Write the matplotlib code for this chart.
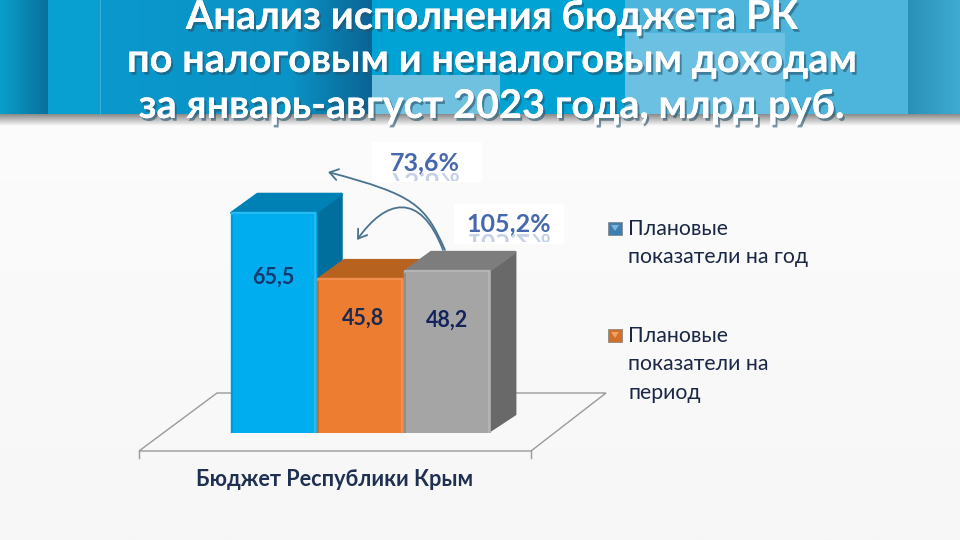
import numpy as np
import matplotlib
matplotlib.use("Agg")
import matplotlib.pyplot as plt
import matplotlib.patheffects as pe
from matplotlib.colors import LinearSegmentedColormap
from matplotlib.patches import Rectangle, Polygon, FancyArrowPatch, PathPatch
from matplotlib.path import Path
from matplotlib.textpath import TextPath
from matplotlib.font_manager import FontProperties
from matplotlib.transforms import Affine2D

plt.rcParams['font.family'] = ['Lato', 'Noto Sans', 'DejaVu Sans']

# данные
categories = ["Плановые показатели на год", "Плановые показатели на период", "Исполнение"]
values = [65.5, 45.8, 48.2]
value_labels = ["65,5", "45,8", "48,2"]
front_colors = ["#00aeef", "#ed7d31", "#a5a5a5"]
top_colors = ["#0081b5", "#b8621f", "#7d7d7d"]
side_colors = ["#006f9e", "#a85a1e", "#696969"]
light_colors = ["#2fc0f5", "#f39458", "#b8b8b8"]
dark_colors = ["#0096cf", "#c9672a", "#8a8a8a"]
label_colors = ["#123a70", "#1a2a50", "#13235c"]
label_x = [-0.005, 1.03, 2.0]
label_y = [46.4, 34.2, 33.6]
group_label = "Бюджет Республики Крым"
title_lines = ["Анализ исполнения бюджета РК",
               "по налоговым и неналоговым доходам",
               "за январь-август 2023 года, млрд руб."]
legend_texts = ["Плановые\nпоказатели на год", "Плановые\nпоказатели на\nпериод"]
legend_colors = ["#3d7fb0", "#d0702a"]
legend_light = ["#7fb4d8", "#f0a060"]
pct_labels = ["73,6%", "105,2%"]

fig = plt.figure(figsize=(9.6, 5.4), dpi=100)

# фон и шапка, координаты в пикселях
bg = fig.add_axes([0, 0, 1, 1], zorder=0)
bg.axis("off")
page = LinearSegmentedColormap.from_list("page", ["#f7f7f8", "#fdfdfe"])
bg.imshow(np.linspace(1, 0, 200).reshape(-1, 1), extent=(0, 960, 540, 0), aspect="auto", cmap=page, zorder=0)


def hgrad(x0, x1, y0, y1, c0, c1, z=1):
    cm = LinearSegmentedColormap.from_list("g", [c0, c1])
    bg.imshow(np.linspace(0, 1, 128).reshape(1, -1), extent=(x0, x1, y1, y0), aspect="auto", cmap=cm, zorder=z)


hgrad(0, 48, 0, 114, "#0a9fcb", "#0b6f9c")
hgrad(48, 100, 0, 114, "#08a0d0", "#08a0d0")
hgrad(100, 290, 0, 114, "#0a98cc", "#0a93c6")
hgrad(290, 372, 0, 114, "#0a93c6", "#0a6494")
hgrad(372, 625, 0, 114, "#00a3d3", "#00a3d3")
hgrad(372, 500, 75, 114, "#70c0e0", "#70c0e0", 2)
hgrad(625, 908, 0, 114, "#4db5dc", "#4db5dc", 2)
hgrad(625, 785, 33, 114, "#6cc0e2", "#6cc0e2", 3)
hgrad(908, 960, 0, 114, "#2a8fb6", "#3fabd2", 2)
bg.plot([100, 100], [0, 114], color="#3fb2da", lw=0.7, zorder=3)
shadow = LinearSegmentedColormap.from_list("s", ["#8a8a8a", "#fbfbfc"])
bg.imshow(np.linspace(0, 1, 32).reshape(-1, 1), extent=(0, 960, 126, 114), aspect="auto", cmap=shadow, zorder=2)
bg.set_xlim(0, 960)
bg.set_ylim(540, 0)

# плоскость основания
floor = Polygon([(139, 451), (531, 451), (606, 393), (217, 393)], closed=True, fill=False,
                edgecolor="#9a9a9a", linewidth=1, zorder=3)
bg.add_patch(floor)
bg.plot([139, 139], [451, 458], color="#9a9a9a", lw=1, zorder=3)
bg.plot([531, 531], [451, 458], color="#9a9a9a", lw=1, zorder=3)

# столбцы
ax = fig.add_axes([230 / 960, (540 - 433) / 540, 260.5 / 960, 235.2 / 540], zorder=1)
ax.patch.set_alpha(0)
ax.set_xlim(-0.5, 2.5)
ax.set_ylim(0, 70)
ax.axis("off")
dx = 0.30
dy = 5.6
w = 0.965
for i, v in enumerate(values):
    l = i - w / 2
    r = i + w / 2
    z = 2 + i * 4
    ax.add_patch(Polygon([(r, 0.5), (r + dx, dy), (r + dx, v + dy), (r, v)], closed=True, facecolor=side_colors[i],
                         edgecolor=side_colors[i], lw=2, joinstyle="round", zorder=z, clip_on=False))
    ax.add_patch(Polygon([(l, v), (l + dx, v + dy), (r + dx, v + dy), (r, v)], closed=True, facecolor=top_colors[i],
                         edgecolor=top_colors[i], lw=2, joinstyle="round", zorder=z, clip_on=False))
    ax.bar(i, v, width=w, color=front_colors[i], edgecolor=front_colors[i], linewidth=2.5, joinstyle="round",
           zorder=z + 1, label=categories[i])
    # блик сверху и справа, тень слева
    ax.plot([l, r, r], [v, v, 0], color=light_colors[i], lw=1.1, solid_joinstyle="round", zorder=z + 2)
    ax.plot([l, l], [v - 1, 0], color=dark_colors[i], lw=1.2, zorder=z + 2)
    ax.text(label_x[i], label_y[i], value_labels[i], ha="center", va="center", fontsize=15.5, fontweight="bold",
            color=label_colors[i], zorder=20)

# верхний слой: заголовок, стрелки, подписи
top = fig.add_axes([0, 0, 1, 1], zorder=5)
top.patch.set_alpha(0)
top.set_xlim(0, 960)
top.set_ylim(540, 0)
top.axis("off")

for txt, y in zip(title_lines, [29, 72, 118]):
    top.text(492, y, txt, ha="center", va="baseline", fontsize=28.6, fontweight="bold", color="white", clip_on=False,
             path_effects=[pe.withSimplePatchShadow(offset=(1.5, -2), shadow_rgbFace="#26546c", alpha=0.6), pe.Normal()])

arrow_col = "#4a7390"
arrow1 = Path([(445, 250), (425, 205), (415, 195), (328, 172)], [Path.MOVETO, Path.CURVE4, Path.CURVE4, Path.CURVE4])
arrow2 = Path([(443, 250), (420, 190), (385, 200), (357, 240)], [Path.MOVETO, Path.CURVE4, Path.CURVE4, Path.CURVE4])
for p in [arrow1, arrow2]:
    top.add_patch(FancyArrowPatch(path=p, arrowstyle="->,head_length=6,head_width=4", color=arrow_col, lw=1.3,
                                  zorder=4, shrinkA=0, shrinkB=0))

pct_boxes = [(372, 142, 110, 40), (454, 204, 110, 40)]
pct_pos = [(425, 163), (509, 224)]
pct_font = FontProperties(family=['Lato', 'Noto Sans'], weight="bold", size=18)
for (x, y, bw, bh), (px, py), s in zip(pct_boxes, pct_pos, pct_labels):
    top.add_patch(Rectangle((x, y), bw, bh, facecolor="white", edgecolor="none", zorder=5))
    top.text(px, py, s, ha="center", va="center", fontsize=18, fontweight="bold", color="#4668ac", zorder=7)
    # отражение надписи, только нижняя полоска
    tp = TextPath((0, 0), s, size=25, prop=pct_font)
    bb = tp.get_extents()
    tr = Affine2D().translate(-(bb.x0 + bb.x1) / 2, 0).translate(px, py + 10) + top.transData
    refl = PathPatch(tp, transform=tr, facecolor="#4668ac", edgecolor="none", alpha=0.3, zorder=6)
    top.add_patch(refl)
    refl.set_clip_path(Rectangle((px - 60, py + 10), 120, 8, transform=top.transData))

for txt, y, col, lc in zip(legend_texts, [228, 335], legend_colors, legend_light):
    top.add_patch(Rectangle((608, y - 6), 14, 13, facecolor=col, edgecolor="#7f7f7f", lw=0.5, zorder=5))
    top.add_patch(Polygon([(611, y - 3), (619, y - 3), (615, y + 3)], closed=True, facecolor=lc, edgecolor="none", zorder=5))
    top.text(628, y - 9, txt, ha="left", va="top", fontsize=15.3, color="#1a2845", linespacing=1.53, zorder=6)

top.text(335, 480, group_label, ha="center", va="center", fontsize=15.6, fontweight="bold", color="#1f3050", zorder=6)

plt.savefig("out.png", dpi=100)
